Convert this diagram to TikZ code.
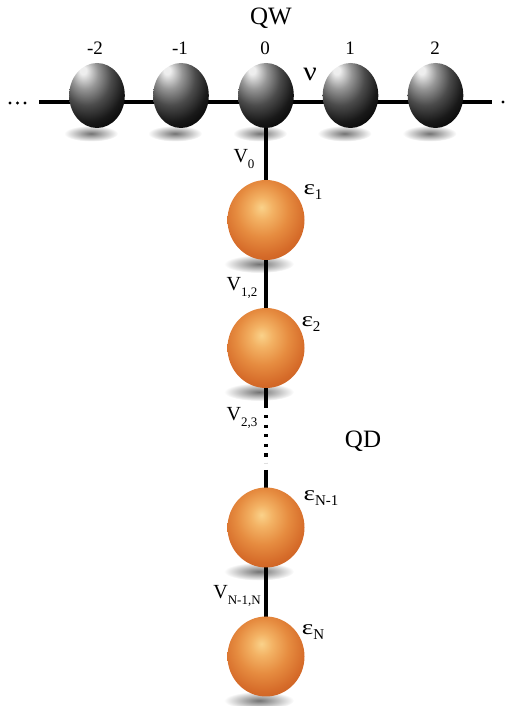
\documentclass[tikz,border=0pt]{standalone}
\usepackage{fontspec}
\setmainfont{Liberation Serif}
\usetikzlibrary{shapes.geometric,backgrounds}
\definecolor{bhl}{RGB}{238,238,238}
\definecolor{bmA}{RGB}{150,150,150}
\definecolor{bmB}{RGB}{75,75,75}
\definecolor{bmC}{RGB}{25,25,25}
\definecolor{ohl}{RGB}{250,210,138}
\definecolor{omA}{RGB}{243,178,100}
\definecolor{omB}{RGB}{230,140,64}
\definecolor{omC}{RGB}{214,108,42}
\definecolor{omD}{RGB}{194,86,28}
\definecolor{orim}{RGB}{168,66,18}
\pgfdeclareradialshading{blackball}{\pgfpoint{-13bp}{20bp}}{color(0bp)=(bhl); color(3bp)=(bhl); color(12bp)=(bmA); color(22bp)=(bmB); color(32bp)=(bmC); color(42bp)=(black); color(80bp)=(black)}
\pgfdeclareradialshading{orangeball}{\pgfpoint{-3bp}{8bp}}{color(0bp)=(ohl); color(7bp)=(omA); color(17bp)=(omB); color(27bp)=(omC); color(37bp)=(omD); color(46bp)=(orim); color(80bp)=(orim)}
\newcommand\sbx[1]{\raisebox{-0.3em}{\fontsize{13}{13}\selectfont #1}}
\newcommand\sbe[1]{\raisebox{-0.25em}{\fontsize{15}{15}\selectfont #1}}
\newcommand\eps{\scalebox{1.3}[1]{ε}}
\tikzset{
  bball/.style={ellipse, draw=none, inner sep=0pt, minimum width=55.6pt, minimum height=65pt, shading=blackball},
  oball/.style={ellipse, draw=none, inner sep=0pt, minimum width=77pt, minimum height=80pt, shading=orangeball},
  shadowell/.style={inner color=black!55, outer color=white},
  wire/.style={line width=3.6pt, black},
  lbl/.style={inner sep=0pt, font=\fontsize{19}{19}\selectfont},
  vlbl/.style={inner sep=0pt, font=\fontsize{20}{20}\selectfont},
  elbl/.style={inner sep=0pt, font=\fontsize{21}{21}\selectfont},
  big/.style={inner sep=0pt, font=\fontsize{25}{25}\selectfont},
}
\begin{document}
\begin{tikzpicture}[x=1pt,y=1pt]
\useasboundingbox (0,0) rectangle (508,706);
% spheres
\node[bball] (wm2) at (97,610.5) {};
\node[bball] (wm1) at (181,610.5) {};
\node[bball] (w0) at (266,610.5) {};
\node[bball] (w1) at (350.5,610.5) {};
\node[bball] (w2) at (435.5,610.5) {};
\node[oball] (d1) at (266,486) {};
\node[oball] (d2) at (266,358) {};
\node[oball] (d3) at (266,178.5) {};
\node[oball] (d4) at (266,49.5) {};
% coordinates
\coordinate (L) at (39,604);
\coordinate (R) at (492,604);
\coordinate (s1) at (266,298);
\coordinate (t1) at (266,291);
\coordinate (t2) at (266,243);
\coordinate (s2) at (266,236);
\begin{scope}[on background layer]
  \foreach \n in {wm2,wm1,w0,w1,w2}{
    \path[shadowell] ([xshift=-6pt,yshift=-38pt]\n.center) ellipse [x radius=27pt, y radius=8pt];
  }
  \foreach \n in {d1,d2,d3,d4}{
    \path[shadowell] ([xshift=-7pt,yshift=-44pt]\n.center) ellipse [x radius=35pt, y radius=9pt];
  }
  \draw[wire] (L) -- (R);
  \draw[wire] (w0.center) -- (d1.center);
  \draw[wire] (d1.center) -- (d2.center);
  \draw[wire] (d2.center) -- (s1);
  \draw[wire, dash pattern=on 3.2pt off 6.4pt] (t1) -- (t2);
  \draw[wire] (s2) -- (d3.center);
  \draw[wire] (d3.center) -- (d4.center);
\end{scope}
% end dots
\fill (10,603) circle (1.7pt);
\fill (17.5,603) circle (1.7pt);
\fill (25,603) circle (1.7pt);
\fill (503,604) circle (1.7pt);
% labels
\node[big] (qw) at (271,688) {QW};
\node[lbl] (nm2) at (95,658) {-2};
\node[lbl] (nm1) at (180,658) {-1};
\node[lbl] (n0) at (265,658) {0};
\node[lbl] (n1) at (350,658) {1};
\node[lbl] (n2) at (435,658) {2};
\node[inner sep=0pt, font=\fontsize{27}{27}\selectfont] (nu) at (310,632) {\scalebox{1.1}[1]{ν}};
\node[vlbl] (v0) at (244,547) {V\sbx{0}};
\node[elbl] (e1) at (313,514) {\eps\sbe{1}};
\node[vlbl] (v12) at (242,418) {V\sbx{1,2}};
\node[elbl] (e2) at (311,382) {\eps\sbe{2}};
\node[vlbl] (v23) at (242,288) {V\sbx{2,3}};
\node[big] (qd) at (363,265) {QD};
\node[elbl] (e3) at (321,208) {\eps\sbe{N-1}};
\node[vlbl] (v34) at (237,110) {V\sbx{N-1,N}};
\node[elbl] (e4) at (313,74) {\eps\sbe{N}};
\end{tikzpicture}
\end{document}
